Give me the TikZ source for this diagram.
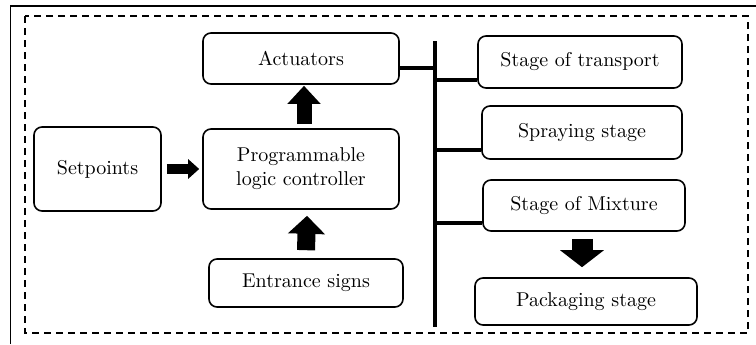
\documentclass[tikz,border=0pt]{standalone}
\usepackage{tikz}
\usetikzlibrary{arrows.meta, calc}

\begin{document}
\begin{tikzpicture}[x = 0.5pt, y = -0.5pt,
    blocco/.style = {draw, line width = 0.8pt, rounded corners = 4pt, align = center, inner sep = 0pt},
    bus/.style = {line width = 2pt},
    freccia/.style n args = {3}{line width = #1, -{Triangle[width = #2, length = #3]}}]
    \useasboundingbox (0,0) rectangle (756,344);
    % cornice
    \draw[line width = 0.7pt] (10.5,344) -- (10.5,6) -- (756,6);
    \draw[line width = 0.7pt, dash pattern = on 3.5pt off 2.5pt] (25,16) rectangle (748,333);
    % blocchi di sinistra
    \node[blocco, minimum width = 63.5pt, minimum height = 42pt] (setp) at (97.5,169) {Setpoints};
    \node[blocco, minimum width = 98pt, minimum height = 40pt] (plc) at (301,169) {Programmable\\logic controller};
    \node[blocco, minimum width = 98pt, minimum height = 25.5pt] (act) at (301,58.5) {Actuators};
    \node[blocco, minimum width = 97pt, minimum height = 24pt] (ent) at (306,283) {Entrance signs};
    % blocchi di destra
    \node[blocco, minimum width = 102pt, minimum height = 26pt] (trasp) at (580,62) {Stage of transport};
    \node[blocco, minimum width = 100pt, minimum height = 26.5pt] (spruzzo) at (582,132.5) {Spraying stage};
    \node[blocco, minimum width = 101pt, minimum height = 25.5pt] (misc) at (584,205.5) {Stage of Mixture};
    \node[blocco, minimum width = 111pt, minimum height = 23.5pt] (imball) at (586,301.5) {Packaging stage};
    % frecce
    \draw[freccia = {5pt}{9.5pt}{5.5pt}] ([xshift = 2.5pt]setp.east) -- ([xshift = -1.5pt]plc.west);
    \draw[freccia = {7.5pt}{16pt}{9pt}] ([shift = {(1.5pt,2pt)}]plc.north) -- ([shift = {(1.5pt,-0.5pt)}]act.south);
    \draw[freccia = {9pt}{18pt}{9pt}] ([yshift = 4pt]ent.north) -- ([shift = {(3pt,-3pt)}]plc.south);
    \draw[freccia = {10.5pt}{21.5pt}{8.5pt}] ([shift = {(-1pt,-3.5pt)}]misc.south) -- ([shift = {(-2pt,5pt)}]imball.north);
    % barra verticale
    \coordinate (bartop) at (435,41);
    \coordinate (barbot) at (435,327);
    \draw[bus] (bartop) -- (barbot);
    \draw[bus] ([yshift = -4.75pt]act.east) coordinate (a1) -- (a1 -| bartop);
    \draw[bus] ([yshift = -9pt]trasp.west) coordinate (t1) -- (t1 -| bartop);
    \draw[bus] ([yshift = -8.75pt]spruzzo.west) coordinate (s1) -- (s1 -| bartop);
    \draw[bus] ([yshift = -8.75pt]misc.west) coordinate (m1) -- (m1 -| bartop);
\end{tikzpicture}
\end{document}
